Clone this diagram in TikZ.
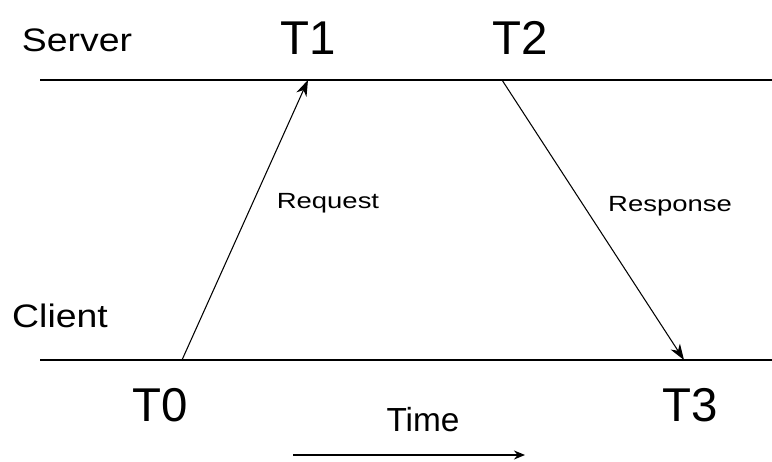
\documentclass[tikz,border=0pt]{standalone}
\usepackage{fontspec}
\setmainfont{Liberation Sans}
\newfontfamily\widesans[FakeStretch=1.15]{Liberation Sans}
\newfontfamily\widersans[FakeStretch=1.25]{Liberation Sans}
\usetikzlibrary{arrows.meta, positioning}

\begin{document}
\begin{tikzpicture}[
    x=0.02cm, y=-0.02cm, >=Stealth,
    timeline/.style={line width=1.6pt},
    msg/.style={line width=0.6pt, -{Stealth[length=3.2mm, width=2.2mm, inset=1mm]}},
    big/.style={font=\fontsize{27}{30}\selectfont},
    side/.style={font=\widesans\fontsize{18.5}{22}\selectfont},
    small/.style={font=\widersans\fontsize{12.5}{14}\selectfont},
  ]
    \useasboundingbox (0,0) rectangle (772,462);
    % --- two timelines ---
    \coordinate (sL) at (40,80);
    \coordinate (sR) at (772,80);
    \coordinate (cL) at (40,360);
    \coordinate (cR) at (772,360);
    \draw[timeline] (sL) -- (sR);
    \draw[timeline] (cL) -- (cR);
    % --- event points ---
    \coordinate (t0) at (182,360);
    \coordinate (t1) at (308,80);
    \coordinate (t2) at (502,80);
    \coordinate (t3) at (684,360);
    % --- labels ---
    \node[side] (server) at (77,40) {Server};
    \node[side] (client) at (60,316) {Client};
    \node[big] (T1) at (308,38) {T1};
    \node[big] (T2) at (520,38) {T2};
    \node[big] (T0) at (160,405) {T0};
    \node[big] (T3) at (690,405) {T3};
    % --- messages ---
    \draw[msg] (t0) -- (t1);
    \draw[msg] (t2) -- (t3);
    \node[small] (req) at (328,203) {Request};
    \node[small] (resp) at (670,206) {Response};
    % --- time axis ---
    \node[font=\fontsize{19}{22}\selectfont] (time) at (423,420) {Time};
    \coordinate (tA) at (293,455);
    \coordinate (tB) at (525,455);
    \draw[timeline, -{Stealth[length=2.2mm, width=1.8mm]}] (tA) -- (tB);
\end{tikzpicture}
\end{document}
